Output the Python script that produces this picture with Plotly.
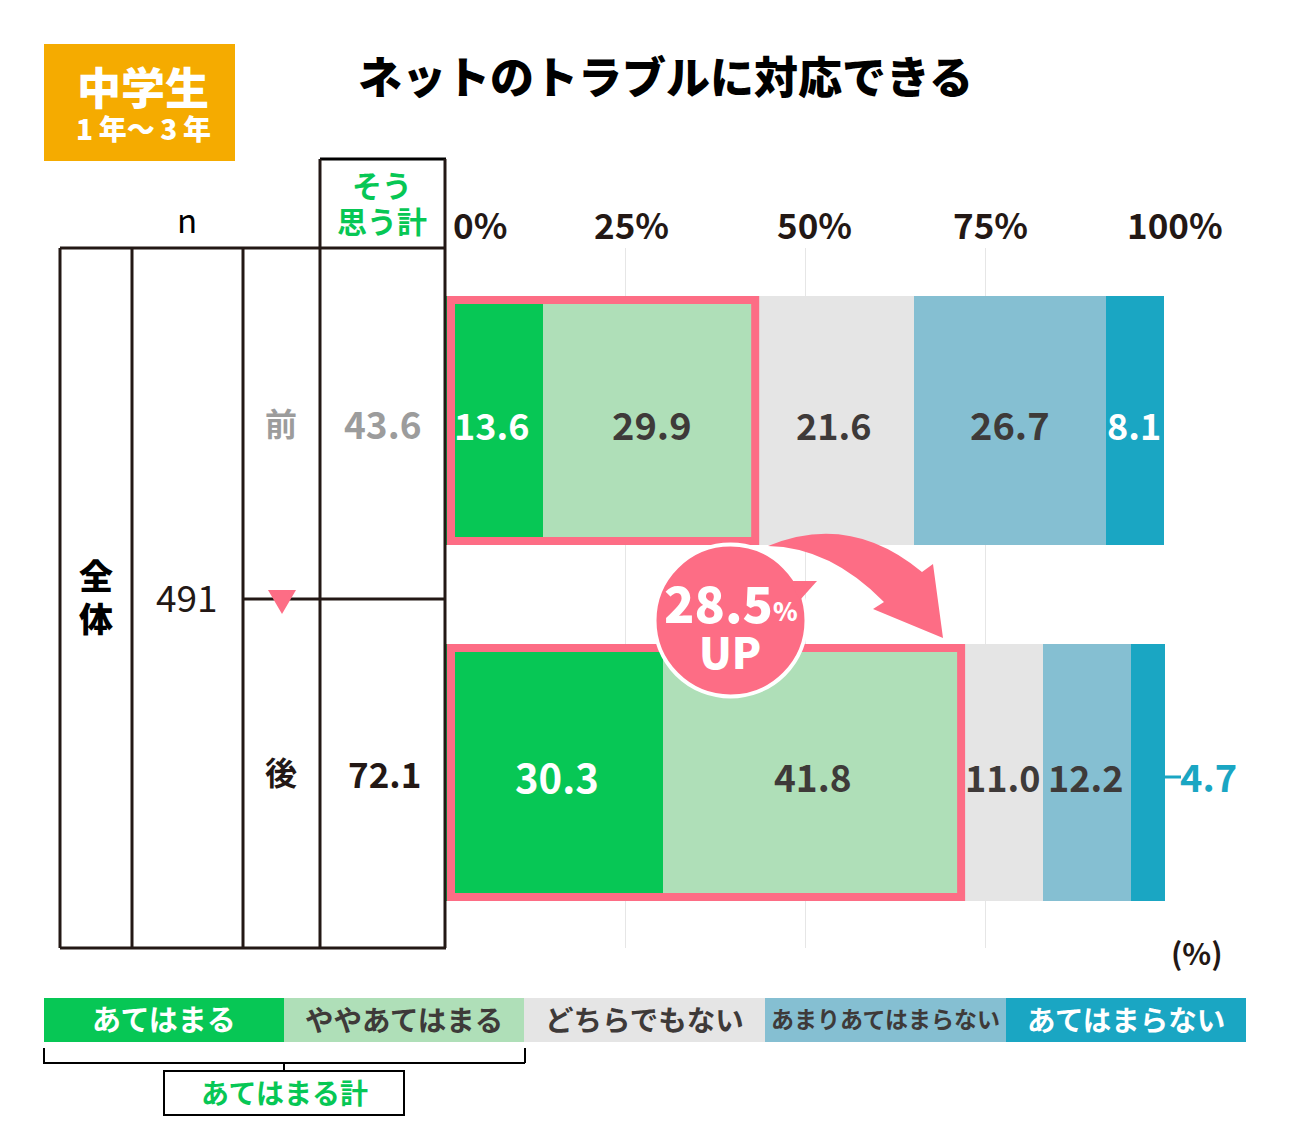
import plotly.graph_objects as go

# ---- data ----
periods = ["前", "後"]
series_names = ["あてはまる", "ややあてはまる", "どちらでもない", "あまりあてはまらない", "あてはまらない"]
atehamaru = [13.6, 30.3]
yaya = [29.9, 41.8]
dochira = [21.6, 11.0]
amari = [26.7, 12.2]
atehamaranai = [8.1, 4.7]
sou_totals = ["43.6", "72.1"]
tick_values = [0, 25, 50, 75, 100]
tick_labels = ["0%", "25%", "50%", "75%", "100%"]
n_label = "491"
title_text = "ネットのトラブルに対応できる"
uplift_text = "28.5"

# ---- styles ----
W, H = 1311, 1140
FONT = "Noto Sans CJK JP"
GREEN = "#07C755"
LGREEN = "#AFDFB8"
GREY = "#E5E5E5"
BLUE = "#85BFD2"
TEAL = "#1AA6C3"
PINK = "#FD6D85"
INK = "#231815"
DARK = "#3E3A39"
COLORS = [GREEN, LGREEN, GREY, BLUE, TEAL]
SERIES = [atehamaru, yaya, dochira, amari, atehamaranai]

PLOT_L, PLOT_R, PLOT_T, PLOT_B = 445, 1165, 248, 948
ROW_PX = 352.0
ROW0_C = 420.5
BAR_W = [249 / ROW_PX, 257 / ROW_PX]


def px(x):
    return x / W


def py(y):
    return 1 - y / H


def vx(v):
    return PLOT_L + v * (PLOT_R - PLOT_L) / 100


fig = go.Figure()
for name, vals, col in zip(series_names, SERIES, COLORS):
    fig.add_trace(go.Bar(y=periods, x=vals, name=name, orientation="h", width=BAR_W,
                         marker=dict(color=col, line=dict(width=0)), hoverinfo="skip"))

shapes = []
ann = []


def rect(x0, y0, x1, y1, fill=None, line=None, lw=0, layer="above"):
    shapes.append(dict(type="rect", xref="paper", yref="paper", x0=px(x0), x1=px(x1), y0=py(y0), y1=py(y1),
                       fillcolor=fill if fill else "rgba(0,0,0,0)",
                       line=dict(color=line if line else "rgba(0,0,0,0)", width=lw), layer=layer))


def seg(x0, y0, x1, y1, col=INK, lw=3):
    shapes.append(dict(type="line", xref="paper", yref="paper", x0=px(x0), x1=px(x1), y0=py(y0), y1=py(y1),
                       line=dict(color=col, width=lw), layer="above"))


def path(points_str, fill, line=None, lw=0):
    shapes.append(dict(type="path", xref="paper", yref="paper", path=points_str, fillcolor=fill,
                       line=dict(color=line if line else "rgba(0,0,0,0)", width=lw), layer="above"))


def label(x, y, text, size, color=INK, weight=700):
    ann.append(dict(xref="paper", yref="paper", x=px(x), y=py(y - 3), text=text, showarrow=False,
                    xanchor="center", yanchor="middle",
                    font=dict(family=FONT, size=size, color=color, weight=weight)))


# badge and title
rect(44, 44, 235, 161, fill="#F5AB00")
label(143, 89, "中学生", 44, "white", 900)
label(143, 131, "1\u2009年～\u20093\u2009年", 28, "white", 900)
label(665, 78, title_text, 44, "#000000", 900)

# table
seg(60, 248, 446, 248)
seg(60, 948, 446, 948)
for x in (60, 132, 243, 320, 445):
    seg(x, 248, x, 948)
seg(243, 599, 445, 599)
seg(320, 159, 446, 159, col="#000000")
seg(320, 159, 320, 248)
seg(445, 159, 445, 248)
label(187, 222, "n", 33, "#000000", 400)
label(382, 187, "そう", 30, GREEN, 700)
label(382, 223, "思う計", 30, GREEN, 700)
label(96, 577, "全", 34, "#000000", 900)
label(96, 620, "体", 34, "#000000", 900)
label(187, 599, n_label, 37, INK, 400)
label(281, 425, periods[0], 32, "#9C9C9C", 700)
label(281, 774, periods[1], 32, INK, 700)
label(383, 426, sou_totals[0], 37, "#9C9C9C", 700)
label(384, 775, sou_totals[1], 35, INK, 700)
path(f"M{px(268)},{py(590)} L{px(296)},{py(590)} L{px(282)},{py(614)} Z", PINK)

# tick labels
for lab, cx in zip(tick_labels, (480, 631, 814, 990, 1175)):
    label(cx, 226, lab, 35, INK, 700)
label(1197, 955, "(%)", 30, INK, 700)

# pink frames around the "あてはまる計" parts of each bar
tops = (296, 644)
bots = (545, 901)
for i in range(2):
    right = vx(atehamaru[i] + yaya[i]) + 1
    rect(451, tops[i] + 4, right - 4, bots[i] - 4, line=PINK, lw=8)


# curved arrow
def P(x, y):
    return f"{px(x)},{py(y)}"


path(f"M{P(768, 546)} Q{P(850, 512)} {P(922, 572)} L{P(933, 564)} L{P(943, 638)} L{P(873, 609)} L{P(884, 602)} "
     f"Q{P(830, 547)} {P(768, 546)} Z", PINK)
# bubble
shapes.append(dict(type="circle", xref="paper", yref="paper", x0=px(654.5), x1=px(806.5), y0=py(544.5), y1=py(696.5),
                   fillcolor=PINK, line=dict(color="white", width=4), layer="above"))
path(f"M{P(790, 581)} L{P(817, 581)} L{P(800, 600)} Z", PINK)
label(718, 604, uplift_text, 50, "white", 900)
label(785, 613, "%", 25, "white", 900)
label(730, 653, "UP", 43, "white", 900)

# bar value labels, placed from the data
value_shift = [[-2, 1, -2, 0, -1], [3, -1, -1, -2, 0]]
value_size = [[36, 38, 36, 38, 36], [40, 37, 36, 36, 38]]
for r in range(2):
    cum = 0.0
    for s, vals in enumerate(SERIES):
        v = vals[r]
        mid = cum + v / 2
        cum += v
        is_small_out = (r == 1 and s == 4)
        col = "white" if s == 0 or s == 4 else DARK
        if is_small_out:
            ann.append(dict(xref="paper", yref="y", x=px(1208), y=periods[r], yshift=-3,
                            text=f"{v:.1f}", showarrow=False, xanchor="center", yanchor="middle",
                            font=dict(family=FONT, size=38, color=TEAL, weight=700)))
            continue
        ann.append(dict(xref="x", yref="y", x=mid, y=periods[r], xshift=value_shift[r][s], yshift=-3,
                        text=f"{v:.1f}", showarrow=False, xanchor="center", yanchor="middle",
                        font=dict(family=FONT, size=value_size[r][s], color=col, weight=700)))
seg(1165, 777, 1181, 777, col=TEAL, lw=3)

# legend strip
edges = (44, 284, 524, 765, 1006, 1246)
leg_text = ["white", DARK, DARK, DARK, "white"]
leg_size = [29, 28.5, 28.5, 23, 28.5]
for i, name in enumerate(series_names):
    rect(edges[i], 998, edges[i + 1], 1042, fill=COLORS[i])
    label((edges[i] + edges[i + 1]) / 2, 1021, name, leg_size[i], leg_text[i], 700)

# bracket
seg(44, 1048, 44, 1063, col="#000000", lw=2)
seg(43, 1063, 525, 1063, col="#000000", lw=2)
seg(525, 1048, 525, 1063, col="#000000", lw=2)
seg(284, 1063, 284, 1071, col="#000000", lw=2)
rect(164, 1071, 404, 1115, line="#000000", lw=2)
label(284, 1095, "あてはまる計", 28, GREEN, 700)

fig.update_layout(
    width=W, height=H, margin=dict(l=0, r=0, t=0, b=0, pad=0),
    paper_bgcolor="white", plot_bgcolor="white", barmode="stack", showlegend=False,
    font=dict(family=FONT),
    bargap=0,
    xaxis=dict(domain=[px(PLOT_L), px(PLOT_R)], range=[0, 100], tickvals=tick_values, showticklabels=False,
               showgrid=True, gridcolor="#E6E6E6", gridwidth=1, zeroline=False, showline=False, ticks=""),
    yaxis=dict(domain=[py(PLOT_B), py(PLOT_T)], type="category", categoryorder="array", categoryarray=periods,
               range=[(PLOT_B - ROW0_C) / ROW_PX, (PLOT_T - ROW0_C) / ROW_PX],
               showgrid=False, showticklabels=False, zeroline=False, showline=False, ticks=""),
    shapes=shapes, annotations=ann,
)

fig.write_html("out.html", config=dict(displayModeBar=False),
               post_script="document.body.style.margin='0';")
